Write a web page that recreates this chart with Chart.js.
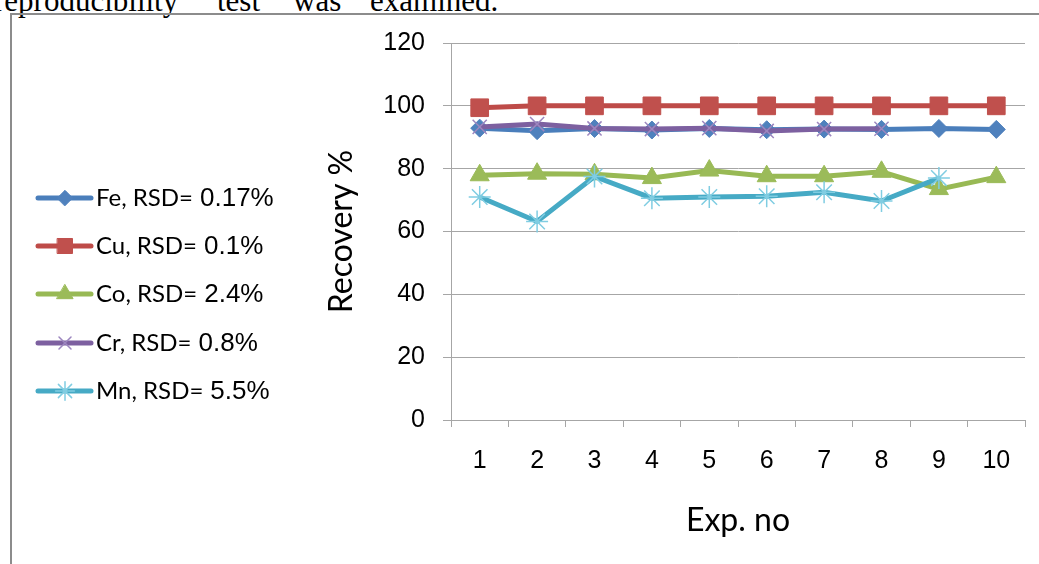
<!DOCTYPE html>
<html>
<head>
<meta charset="utf-8">
<script src="https://cdn.jsdelivr.net/npm/chart.js@4.4.1/dist/chart.umd.min.js"></script>
<style>
  html, body { margin: 0; padding: 0; background: #fff; overflow: hidden; }
  #page { position: relative; width: 1039px; height: 564px; overflow: hidden; }
  #frame { position: absolute; left: 10px; top: 13px; width: 1100px; height: 600px;
           border-left: 2px solid #8c8c8c; border-top: 2px solid #8c8c8c; }
  .word { position: absolute; top: -14px; font: 31px 'Liberation Serif', serif; line-height: 30px; white-space: pre; color: #000; }
  #wrap { position: absolute; left: 0; top: 0; width: 1039px; height: 564px; }
</style>
</head>
<body>
<div id="page">
  <span class="word" style="left:-6px">reproducibility</span>
  <span class="word" style="left:217px">test</span>
  <span class="word" style="left:293px">was</span>
  <span class="word" style="left:370px">examined.</span>
  <div id="frame"></div>
  <div id="wrap"><canvas id="chart"></canvas></div>
</div>
<script>
(function () {
  'use strict';

  // Data
  var expNo = ['1', '2', '3', '4', '5', '6', '7', '8', '9', '10'];
  var fe = [92.9, 92.1, 92.8, 92.3, 92.8, 92.4, 92.6, 92.5, 92.8, 92.5];
  var cu = [99.4, 100, 100, 100, 100, 100, 100, 100, 100, 100];
  var co = [77.9, 78.4, 78.2, 77.0, 79.4, 77.6, 77.6, 79.0, 73.5, 77.3];
  var cr = [93.3, 94.2, 92.8, 92.6, 92.9, 92.0, 92.6, 92.7];
  var mn = [71.0, 63.2, 77.5, 70.6, 71.0, 71.2, 72.5, 69.7, 77.0];

  var legendNames = ['Fe, RSD=', 'Cu, RSD=', 'Co, RSD=', 'Cr, RSD=', 'Mn, RSD='];
  var rsdValues = ['0.17%', '0.1%', '2.4%', '0.8%', '5.5%'];
  var yTicks = [0, 20, 40, 60, 80, 100, 120];

  var gridGray = '#a6a6a6';

  function series(values, line, marker, style, radius, markerBorder, order) {
    return {
      data: values,
      order: order,
      borderColor: line,
      backgroundColor: marker,
      borderWidth: 5,
      pointStyle: style,
      pointRadius: radius,
      pointHoverRadius: radius,
      pointBackgroundColor: marker,
      pointBorderColor: markerBorder || marker,
      pointBorderWidth: markerBorder ? 1.5 : 1,
      tension: 0,
      fill: false
    };
  }

  // later series sit on top, as in the original spreadsheet chart
  var datasets = [
    series(fe, '#4a7ebb', '#4f81bd', 'rectRot', 9, null, 5),
    series(cu, '#be4b48', '#c0504d', 'rect', 12.5, null, 4),
    series(co, '#98b954', '#9bbb59', 'triangle', 11, null, 3),
    series(cr, '#7d60a0', 'rgba(0,0,0,0)', 'crossRot', 10, '#9c86bf', 2),
    series(mn, '#46aac5', 'rgba(0,0,0,0)', 'star', 11, '#80cde2', 1)
  ];

  // Legend on the left, drawn with the datasets' own styles
  var sideLegend = {
    id: 'sideLegend',
    afterDraw: function (chart) {
      var ctx = chart.ctx;
      var rowY = [198, 246, 294, 343, 391];
      ctx.save();
      chart.data.datasets.forEach(function (ds, i) {
        var y = rowY[i];
        ctx.strokeStyle = ds.borderColor;
        ctx.lineWidth = 5;
        ctx.lineCap = 'round';
        ctx.beginPath();
        ctx.moveTo(38, y);
        ctx.lineTo(91, y);
        ctx.stroke();
        ctx.fillStyle = ds.pointBackgroundColor;
        ctx.strokeStyle = ds.pointBorderColor;
        ctx.lineWidth = ds.pointBorderWidth;
        if (Chart.helpers && Chart.helpers.drawPoint) {
          Chart.helpers.drawPoint(ctx, {
            pointStyle: ds.pointStyle,
            radius: ds.pointRadius * 0.85,
            rotation: 0,
            borderWidth: ds.pointBorderWidth
          }, 65, y);
        }
        ctx.fillStyle = '#000';
        ctx.textBaseline = 'middle';
        ctx.textAlign = 'left';
        ctx.font = '24px Lato';
        ctx.fillText(legendNames[i], 96, y);
        var w = ctx.measureText(legendNames[i]).width;
        ctx.font = '26px "Liberation Sans"';
        ctx.fillText(rsdValues[i], 96 + w + 7, y + 1);
      });
      ctx.restore();
    }
  };

  var ctx = document.getElementById('chart').getContext('2d');
  new Chart(ctx, {
    type: 'line',
    data: { labels: expNo, datasets: datasets },
    plugins: [sideLegend],
    options: {
      responsive: true,
      maintainAspectRatio: false,
      animation: false,
      devicePixelRatio: 1,
      layout: { padding: { left: 320, top: 43, right: 14, bottom: 0 } },
      plugins: {
        legend: { display: false },
        tooltip: { enabled: false }
      },
      scales: {
        x: {
          offset: true,
          grid: { offset: true, drawOnChartArea: false, drawTicks: true, tickLength: 7, color: gridGray },
          border: { display: true, color: gridGray, width: 1 },
          ticks: { color: '#000', font: { family: 'Liberation Sans', size: 25 }, padding: 19, maxRotation: 0 },
          title: { display: true, text: 'Exp. no', color: '#000',
                   font: { family: 'Lato', size: 32 }, padding: { top: 0, bottom: 24 } },
          afterFit: function (s) { s.height = 144; }
        },
        y: {
          min: 0,
          max: 120,
          afterBuildTicks: function (s) { s.ticks = yTicks.map(function (v) { return { value: v }; }); },
          grid: { color: gridGray, tickLength: 8, drawTicks: true },
          border: { display: true, color: gridGray, width: 1 },
          ticks: { color: '#000', font: { family: 'Liberation Sans', size: 25 }, padding: 18 },
          title: { display: true, text: 'Recovery %', color: '#000',
                   font: { family: 'Lato', size: 32 }, padding: { top: 2, bottom: 0 } },
          afterFit: function (s) { s.width = 131; }
        }
      }
    }
  });
})();
</script>
</body>
</html>
